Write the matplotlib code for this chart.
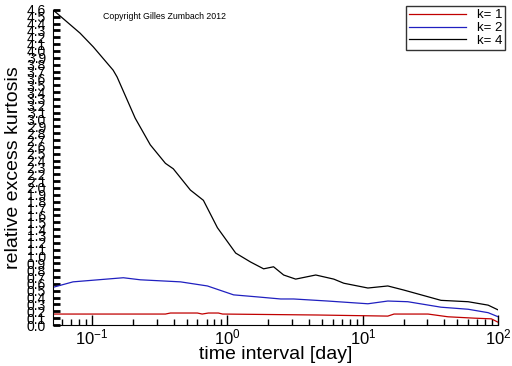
import numpy as np
import matplotlib
matplotlib.use('Agg')
import matplotlib.pyplot as plt

plt.rcParams['font.family'] = ['Liberation Sans', 'DejaVu Sans']

# k = 4
t4 = [0.0514, 0.0815, 0.102, 0.143, 0.153, 0.208, 0.269, 0.348, 0.398, 0.532, 0.664,
      0.843, 1.15, 1.48, 1.85, 2.19, 2.60, 3.19, 4.49, 6.10, 7.23, 10.9, 15.3, 20.1,
      37.8, 60.0, 84.3, 100]
k4 = [4.60, 4.26, 4.06, 3.72, 3.62, 3.02, 2.63, 2.36, 2.28, 1.97, 1.82,
      1.42, 1.05, 0.92, 0.82, 0.85, 0.73, 0.67, 0.73, 0.67, 0.61, 0.54, 0.57, 0.51,
      0.36, 0.34, 0.29, 0.22]
# k = 2
t2 = [0.0514, 0.0723, 0.170, 0.227, 0.449, 0.711, 1.11, 1.67, 2.47, 3.08, 5.50,
      10.9, 15.3, 21.5, 37.8, 60.0, 84.3, 100]
k2 = [0.55, 0.63, 0.69, 0.66, 0.63, 0.57, 0.44, 0.41, 0.38, 0.38, 0.35,
      0.31, 0.35, 0.34, 0.26, 0.23, 0.18, 0.12]
# k = 1
t1 = [0.0514, 0.348, 0.379, 0.600, 0.65, 0.723, 0.857, 0.92, 4.64, 15.3, 17.0,
      30.3, 42.6, 66.6, 89.0, 100]
k1 = [0.16, 0.16, 0.175, 0.175, 0.16, 0.175, 0.175, 0.16, 0.146, 0.13, 0.16,
      0.16, 0.12, 0.10, 0.09, 0.04]

yticks = np.round(np.arange(0, 4.61, 0.1), 1)

fig = plt.figure(figsize=(5.12, 3.66), dpi=100)
ax = fig.add_axes([0.1035, 0.112, 0.8695, 0.861])

ax.plot(t1, k1, color='#c00000', lw=0.9, label='k= 1')
ax.plot(t2, k2, color='#2020c0', lw=0.9, label='k= 2')
ax.plot(t4, k4, color='black', lw=0.9, label='k= 4')

ax.set_xscale('log')
ax.set_xlim(0.0514, 100)
ax.set_ylim(0, 4.6)
ax.set_yticks(yticks)
ax.set_yticklabels(['%.1f' % v for v in yticks], fontsize=10)
ax.tick_params(axis='y', direction='in', length=5, width=2, pad=5)
ax.tick_params(axis='x', which='major', direction='in', length=7, width=1, labelsize=12, pad=2)
ax.tick_params(axis='x', which='minor', direction='in', length=4, width=1)
ax.spines['top'].set_visible(False)
ax.spines['right'].set_visible(False)

ax.set_xlabel('time interval [day]', fontsize=14)
ax.xaxis.set_label_coords(0.5, -0.068)
ax.set_ylabel('relative excess kurtosis', fontsize=14)
ax.yaxis.set_label_coords(-0.07, 0.5)

ax.text(0.112, 0.994, 'Copyright Gilles Zumbach 2012', transform=ax.transAxes,
        fontsize=6.3, va='top', ha='left')

leg = ax.legend(loc='upper right', bbox_to_anchor=(1.016, 1.013), fontsize=9.5,
                frameon=True, fancybox=False, edgecolor='black', handlelength=4.3,
                borderpad=0.25, labelspacing=0.05, handletextpad=0.8, borderaxespad=0)
leg.get_frame().set_linewidth(1)

fig.savefig('out.png', dpi=100)
